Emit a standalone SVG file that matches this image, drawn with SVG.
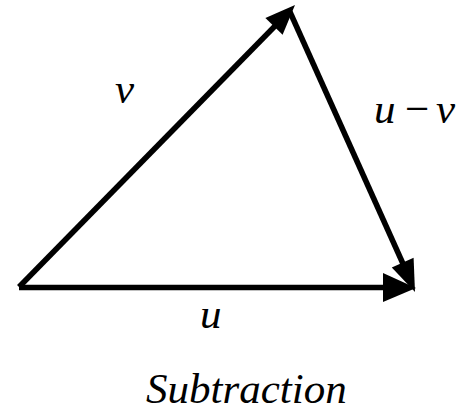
<svg xmlns="http://www.w3.org/2000/svg" width="469" height="413" viewBox="0 0 469 413">
<style>
.ln{stroke:#000;stroke-width:5.5;fill:none;stroke-linecap:butt}
.hd{fill:#000;stroke:none}
.t{font-family:'Liberation Serif','Times New Roman',Times,serif;font-style:italic;font-size:43px;fill:#000}
.m{font-family:'Liberation Serif','Times New Roman',Times,serif;font-style:normal;font-size:43px;fill:#000}
</style>
<rect width="469" height="413" fill="#fff"/>
<g id="connectors">
<line class="ln" x1="19" y1="287.5" x2="388" y2="287.5"/>
<polygon class="hd" points="383,273 416,288 383,302"/>
<line class="ln" x1="19" y1="287" x2="276" y2="25"/>
<polygon class="hd" points="295,5 282.6,34.8 265.4,18"/>
<line class="ln" x1="290" y1="12" x2="404" y2="266"/>
<polygon class="hd" points="415,292 391.8,267.6 413.6,257.8"/>
</g>
<g id="label-v"><text class="t" x="115" y="103">v</text></g>
<g id="label-u-v"><text class="t" x="374" y="123">u</text><text class="m" x="405" y="123">−</text><text class="t" x="436" y="123">v</text></g>
<g id="label-u"><text class="t" x="200" y="328">u</text></g>
<g id="caption"><text class="t" x="146" y="403">Subtraction</text></g>
</svg>
